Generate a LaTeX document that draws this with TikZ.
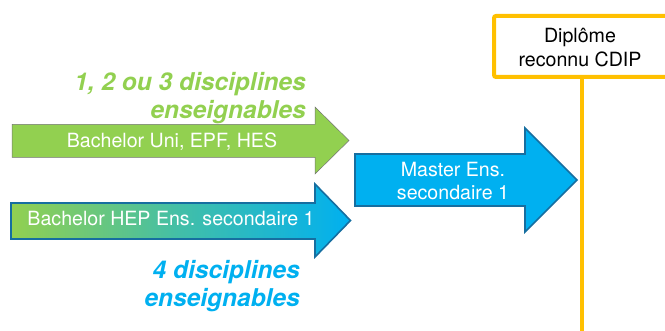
\documentclass[tikz,border=0pt]{standalone}
\usepackage{fontspec}
\setmainfont{TeX Gyre Heros}
\usepackage{xcolor}
\definecolor{vert}{RGB}{146,208,80}
\definecolor{bleu}{RGB}{0,176,240}
\definecolor{bleufonce}{RGB}{22,110,160}
\definecolor{jaune}{RGB}{255,192,0}

\begin{document}
\begin{tikzpicture}[%
		x=1pt,y=-1pt,
		fleche/.style={draw=bleufonce, line width=1.6pt, line join=miter},
		texte/.style={text=white, font=\fontsize{19.6}{23.5}\selectfont, align=center},
		remarque/.style={font=\fontsize{24.5}{28.5}\selectfont\bfseries\itshape, align=right},
		cadre/.style={draw=jaune, line width=4pt, rounded corners=2pt}]
	\useasboundingbox (0,0) rectangle (665,331);
	% fleches des bachelors
	\filldraw[fill=vert, draw=black!55, line width=0.5pt] (12,124.5) -- (315,124.5) -- (315,107)
		-- (349,140.5) -- (315,174) -- (315,157.5) -- (12,157.5) -- cycle;
	\draw[fleche, left color=vert, right color=bleu, middle color=bleu!55!vert] (11,203) -- (315,203)
		-- (315,184) -- (350.5,220.5) -- (315,257) -- (315,239) -- (11,239) -- cycle;
	% fleche du master
	\filldraw[fleche, fill=bleu] (355,154) -- (525,154) -- (525,128) -- (577,180)
		-- (525,232) -- (525,206) -- (355,206) -- cycle;
	% diplome
	\draw[cadre] (494,16) rectangle (672,77);
	\coordinate (cadrebas) at (582,78);
	\coordinate (bas) at (582,335);
	\draw[jaune, line width=3.5pt] (cadrebas) -- (bas);
	\node[texte, anchor=base] (bachuni) at (172,147.5) {Bachelor Uni, EPF, HES};
	\node[texte, anchor=base] (bachhep) at (171,226) {Bachelor HEP Ens. secondaire 1};
	\node[texte] (master) at (453,181) {Master Ens.\\secondaire 1};
	\node[texte, text=black] (cdip) at (580,47.5) {Diplôme\\reconnu CDIP};
	\node[remarque, text=vert, anchor=east, inner sep=0pt] (unideux) at (306,98) {1, 2 ou 3 disciplines\\enseignables};
	\node[remarque, text=bleu, anchor=east, inner sep=0pt] (quatre) at (300,286) {4 disciplines\\enseignables};
\end{tikzpicture}
\end{document}
